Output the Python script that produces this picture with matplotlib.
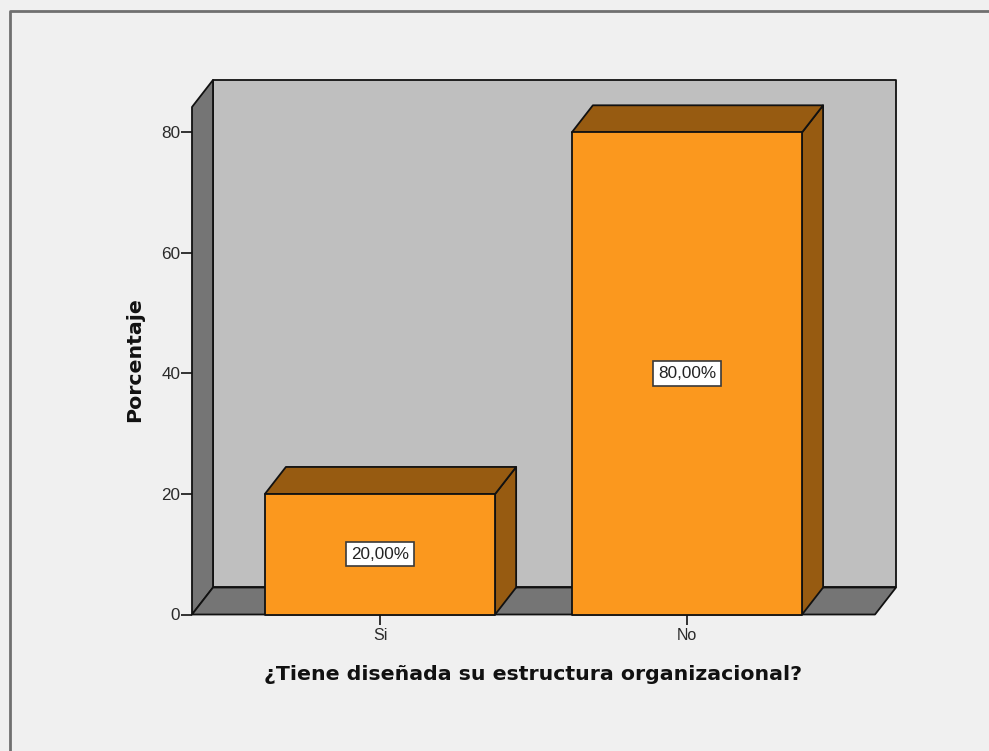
import matplotlib
matplotlib.use("Agg")
import matplotlib.pyplot as plt
from matplotlib.patches import Polygon

categories = ["Si", "No"]
values = [20, 80]
labels = ["20,00%", "80,00%"]
yticks = [0, 20, 40, 60, 80]
xlabel = "¿Tiene diseñada su estructura organizacional?"
ylabel = "Porcentaje"

W, H = 989, 751
plt.rcParams["font.family"] = ["Liberation Sans", "DejaVu Sans"]
fig = plt.figure(figsize=(W / 100, H / 100), dpi=100, facecolor="#f0f0f0")

L, R, T, B = 192, 875, 107, 614.5
ax = fig.add_axes([L / W, 1 - B / H, (R - L) / W, (B - T) / H])
ax.set_xlim(-0.6125, 1.6125)
ax.set_ylim(0, 84.2)
ax.patch.set_visible(False)
for s in ax.spines.values():
    s.set_visible(False)

xmin, xmax = ax.get_xlim()
ymin, ymax = ax.get_ylim()
DX = 21 / 307
DY = 27 / 6.025
WIDTH = 0.75
EDGE = "#111111"
LW = 1.3


def poly(pts, color, z):
    ax.add_patch(Polygon(pts, closed=True, facecolor=color, edgecolor=EDGE,
                         linewidth=LW, zorder=z, clip_on=False, joinstyle="round"))


# walls
poly([(xmin + DX, ymin + DY), (xmax + DX, ymin + DY), (xmax + DX, ymax + DY), (xmin + DX, ymax + DY)], "#bfbfbf", 1)
poly([(xmin, ymin), (xmin + DX, ymin + DY), (xmin + DX, ymax + DY), (xmin, ymax)], "#757575", 2)
poly([(xmin, ymin), (xmax, ymin), (xmax + DX, ymin + DY), (xmin + DX, ymin + DY)], "#757575", 2)

# bars
for i, (v, lab) in enumerate(zip(values, labels)):
    x0, x1 = i - WIDTH / 2, i + WIDTH / 2
    poly([(x1, 0), (x1 + DX, DY), (x1 + DX, v + DY), (x1, v)], "#975b11", 3)
    poly([(x0, v), (x1, v), (x1 + DX, v + DY), (x0 + DX, v + DY)], "#975b11", 3)
    poly([(x0, 0), (x1, 0), (x1, v), (x0, v)], "#fb981e", 4)
    ax.text(i, v / 2, lab, ha="center", va="center", fontsize=12.3, color="#222222", zorder=6,
            bbox=dict(boxstyle="square,pad=0.27", facecolor="white", edgecolor="#3a3a3a", linewidth=1.2))

ax.set_xticks(range(len(categories)))
ax.set_xticklabels(categories, fontsize=11.5, color="#2a2a2a")
ax.set_yticks(yticks)
ax.set_yticklabels([str(t) for t in yticks], fontsize=12.3, color="#2a2a2a")
ax.tick_params(axis="x", length=7.2, width=1.2, color=EDGE, pad=2.7)
ax.tick_params(axis="y", length=8, width=1.2, color=EDGE, pad=0.5)

fig.text(533.5 / W, 1 - 675 / H, xlabel, ha="center", va="center", fontsize=14.75,
         fontweight="bold", color="#111111", family=["DejaVu Sans"])
fig.text(134.5 / W, 1 - 360 / H, ylabel, ha="center", va="center", rotation=90, fontsize=14.75,
         fontweight="bold", color="#111111", family=["DejaVu Sans"])

# outer frame (top and left edges)
fig.add_artist(plt.Line2D([9.8 / W, 9.8 / W, 1], [0, 1 - 10.8 / H, 1 - 10.8 / H],
                          transform=fig.transFigure, color="#707070", linewidth=2))

fig.savefig("out.png", dpi=100, facecolor=fig.get_facecolor())
